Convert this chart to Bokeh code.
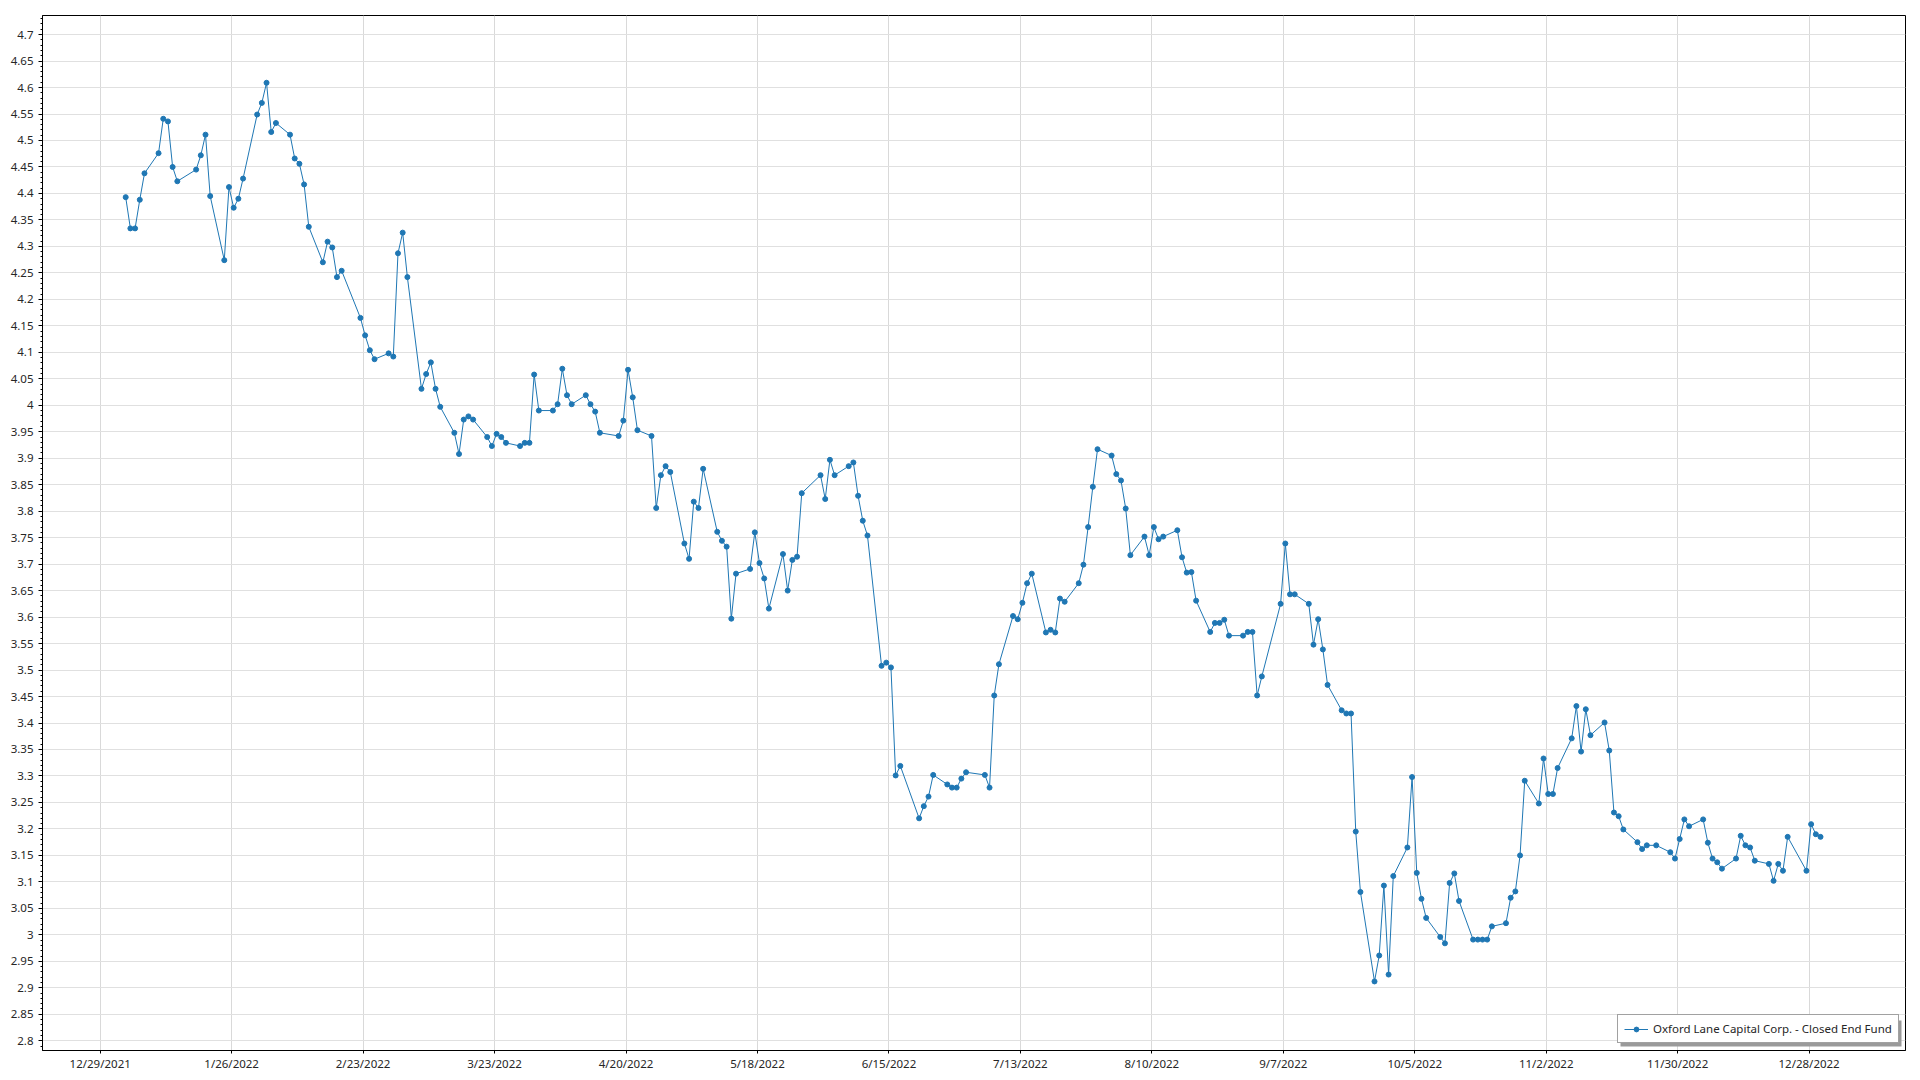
import pandas as pd
from bokeh.plotting import figure
from bokeh.models import (Range1d, SingleIntervalTicker, FixedTicker, CustomJSTickFormatter,
                          Legend, LegendItem, ColumnDataSource, BoxAnnotation)
from bokeh.embed import file_html
from bokeh.resources import INLINE

# ---------------- data (trading days of 2022) ----------------
jan_days = [3, 4, 5, 6, 7, 10, 11, 12, 13, 14, 18, 19, 20, 21, 24, 25, 26, 27, 28, 31]
jan_vals = [4.393, 4.334, 4.334, 4.388, 4.438, 4.476, 4.541, 4.536, 4.450, 4.423,
            4.445, 4.472, 4.511, 4.395, 4.274, 4.412, 4.373, 4.390, 4.428, 4.549]

feb_days = [1, 2, 3, 4, 7, 8, 9, 10, 11, 14, 15, 16, 17, 18, 22, 23, 24, 25, 28]
feb_vals = [4.571, 4.609, 4.516, 4.533, 4.511, 4.466, 4.456, 4.417, 4.337, 4.270,
            4.309, 4.298, 4.242, 4.254, 4.165, 4.132, 4.104, 4.087, 4.098]

mar_days = [1, 2, 3, 4, 7, 8, 9, 10, 11, 14, 15, 16, 17, 18, 21, 22, 23, 24, 25, 28, 29, 30, 31]
mar_vals = [4.092, 4.287, 4.326, 4.242, 4.031, 4.059, 4.081, 4.031, 3.997, 3.948,
            3.908, 3.973, 3.979, 3.973, 3.940, 3.923, 3.946, 3.940, 3.929, 3.923,
            3.929, 3.929, 4.058]

apr_days = [1, 4, 5, 6, 7, 8, 11, 12, 13, 14, 18, 19, 20, 21, 22, 25, 26, 27, 28, 29]
apr_vals = [3.990, 3.990, 4.002, 4.069, 4.019, 4.002, 4.019, 4.002, 3.988, 3.948,
            3.942, 3.971, 4.067, 4.015, 3.953, 3.942, 3.806, 3.868, 3.885, 3.874]

may_days = [2, 3, 4, 5, 6, 9, 10, 11, 12, 13, 16, 17, 18, 19, 20, 23, 24, 25, 26, 27, 31]
may_vals = [3.739, 3.710, 3.818, 3.806, 3.880, 3.761, 3.744, 3.733, 3.597, 3.682,
            3.691, 3.760, 3.702, 3.673, 3.616, 3.719, 3.650, 3.708, 3.714, 3.834, 3.868]

jun_days = [1, 2, 3, 6, 7, 8, 9, 10, 13, 14, 15, 16, 17, 21, 22, 23, 24, 27, 28, 29, 30]
jun_vals = [3.823, 3.897, 3.868, 3.885, 3.892, 3.829, 3.782, 3.754, 3.508, 3.514,
            3.505, 3.301, 3.319, 3.220, 3.243, 3.261, 3.302, 3.284, 3.278, 3.278, 3.295]

jul_days = [1, 5, 6, 7, 8, 11, 12, 13, 14, 15, 18, 19, 20, 21, 22, 25, 26, 27, 28, 29]
jul_vals = [3.307, 3.302, 3.278, 3.452, 3.511, 3.602, 3.596, 3.627, 3.664, 3.682,
            3.571, 3.576, 3.571, 3.635, 3.629, 3.664, 3.699, 3.770, 3.846, 3.917]

aug_days = [1, 2, 3, 4, 5, 8, 9, 10, 11, 12, 15, 16, 17, 18, 19, 22, 23, 24, 25, 26, 29, 30, 31]
aug_vals = [3.905, 3.870, 3.858, 3.805, 3.717, 3.752, 3.717, 3.770, 3.747, 3.752,
            3.764, 3.713, 3.684, 3.685, 3.631, 3.572, 3.589, 3.589, 3.595, 3.565,
            3.565, 3.572, 3.572]

sep_days = [1, 2, 6, 7, 8, 9, 12, 13, 14, 15, 16, 19, 20, 21, 22, 23, 26, 27, 28, 29, 30]
sep_vals = [3.452, 3.488, 3.625, 3.739, 3.643, 3.643, 3.625, 3.548, 3.596, 3.539,
            3.472, 3.424, 3.418, 3.418, 3.195, 3.081, 2.912, 2.961, 3.093, 2.925, 3.111]

oct_days = [3, 4, 5, 6, 7, 10, 11, 12, 13, 14, 17, 18, 19, 20, 21, 24, 25, 26, 27, 28, 31]
oct_vals = [3.165, 3.298, 3.117, 3.068, 3.032, 2.996, 2.984, 3.098, 3.116, 3.064,
            2.991, 2.991, 2.991, 2.991, 3.016, 3.022, 3.070, 3.082, 3.150, 3.291, 3.248]

nov_days = [1, 2, 3, 4, 7, 8, 9, 10, 11, 14, 15, 16, 17, 18, 21, 22, 23, 25, 28, 29, 30]
nov_vals = [3.333, 3.266, 3.266, 3.315, 3.371, 3.432, 3.346, 3.426, 3.377, 3.401,
            3.348, 3.231, 3.224, 3.199, 3.175, 3.162, 3.169, 3.169, 3.156, 3.144, 3.181]

dec_days = [1, 2, 5, 6, 7, 8, 9, 12, 13, 14, 15, 16, 19, 20, 21, 22, 23, 27, 28, 29, 30]
dec_vals = [3.218, 3.205, 3.218, 3.174, 3.144, 3.137, 3.125, 3.144, 3.187, 3.169,
            3.165, 3.140, 3.134, 3.102, 3.134, 3.121, 3.185, 3.121, 3.209, 3.190, 3.185]

tick_labels = ["12/29/2021", "1/26/2022", "2/23/2022", "3/23/2022", "4/20/2022",
               "5/18/2022", "6/15/2022", "7/13/2022", "8/10/2022", "9/7/2022",
               "10/5/2022", "11/2/2022", "11/30/2022", "12/28/2022"]

series_name = "Oxford Lane Capital Corp. - Closed End Fund"

# ---------------- build table ----------------
months = [jan_days, feb_days, mar_days, apr_days, may_days, jun_days,
          jul_days, aug_days, sep_days, oct_days, nov_days, dec_days]
month_vals = [jan_vals, feb_vals, mar_vals, apr_vals, may_vals, jun_vals,
              jul_vals, aug_vals, sep_vals, oct_vals, nov_vals, dec_vals]
dates, vals = [], []
for m, (dl, vl) in enumerate(zip(months, month_vals), start=1):
    assert len(dl) == len(vl), (m, len(dl), len(vl))
    for d, v in zip(dl, vl):
        dates.append(pd.Timestamp(2022, m, d))
        vals.append(v)

origin = pd.Timestamp(2021, 12, 29)
TIME_OF_DAY = 0.43  # points sit a little after midnight on the source axis
xs = [(d - origin).days + TIME_OF_DAY for d in dates]
src = ColumnDataSource(dict(x=xs, y=vals))

tick_pos = [(pd.to_datetime(t, format="%m/%d/%Y") - origin).days for t in tick_labels]

# ---------------- figure ----------------
p = figure(frame_width=1863, frame_height=1035,
           x_range=Range1d(-12.29, 384.53), y_range=Range1d(2.7816, 4.736),
           output_backend="svg", toolbar_location=None,
           min_border_left=42, min_border_right=13, min_border_top=15, min_border_bottom=28,
           background_fill_color="white", border_fill_color="white")

p.outline_line_color = "black"
p.outline_line_width = 1
p.outline_line_alpha = 1

FONT = "Noto Sans"
LBL = "#262626"
FS = "11.5px"

xa = p.xaxis[0]
xa.ticker = FixedTicker(ticks=tick_pos)
xa.major_label_overrides = {tp: lab for tp, lab in zip(tick_pos, tick_labels)}
xa.major_tick_out = 3
xa.major_tick_in = 0
xa.minor_tick_out = 0
xa.minor_tick_in = 0
xa.major_label_standoff = 2
xa.axis_line_color = "black"
xa.major_tick_line_color = "black"
xa.major_label_text_font = FONT
xa.major_label_text_font_size = FS
xa.major_label_text_color = LBL

ya = p.yaxis[0]
ya.ticker = SingleIntervalTicker(interval=0.05, num_minor_ticks=5)
ya.formatter = CustomJSTickFormatter(code="return String(Number(tick.toFixed(2)));")
ya.major_tick_out = 4
ya.major_tick_in = 0
ya.minor_tick_out = 2
ya.minor_tick_in = 0
ya.major_label_standoff = 5
ya.axis_line_color = "black"
ya.major_tick_line_color = "black"
ya.minor_tick_line_color = "black"
ya.major_label_text_font = FONT
ya.major_label_text_font_size = FS
ya.major_label_text_color = LBL

p.xgrid.grid_line_color = "#d9d9d9"
p.ygrid.grid_line_color = "#e0e0e0"
p.xgrid.grid_line_width = 1
p.ygrid.grid_line_width = 1

BLUE = "#1f77b4"
ln = p.line("x", "y", source=src, line_color=BLUE, line_width=1)
sc = p.scatter("x", "y", source=src, size=5, fill_color=BLUE, line_color=BLUE)

# legend drop shadow (frame-relative screen units)
LEG_X, LEG_Y, LEG_W, LEG_H, SH = 1575, 7, 281, 26, 3
shadow = BoxAnnotation(left=LEG_X + SH, right=LEG_X + LEG_W + SH,
                       bottom=LEG_Y - SH, top=LEG_Y + LEG_H - SH,
                       left_units="screen", right_units="screen",
                       bottom_units="screen", top_units="screen",
                       fill_color="#9a9a9a", fill_alpha=1, line_color=None)
p.add_layout(shadow)

legend = Legend(items=[LegendItem(label=series_name, renderers=[ln, sc])],
                location=(LEG_X, LEG_Y), margin=0, padding=6, spacing=0,
                glyph_width=24, glyph_height=12, label_height=12, label_standoff=5,
                label_text_font=FONT, label_text_font_size=FS, label_text_color=LBL,
                border_line_color="#444444", border_line_width=1,
                background_fill_color="white", background_fill_alpha=1)
p.add_layout(legend)

open("out.html", "w").write(file_html(p, INLINE))
